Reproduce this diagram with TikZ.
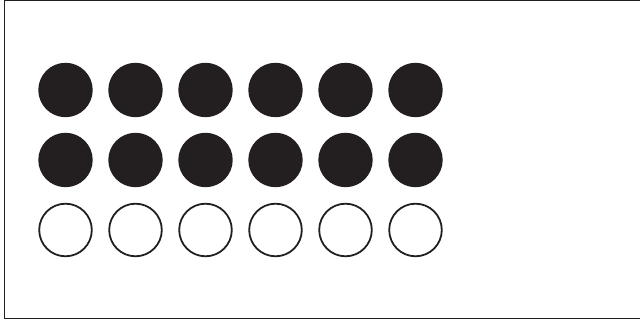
\documentclass[tikz,border=0pt]{standalone}
\usepackage{tikz}
\usetikzlibrary{positioning}
\definecolor{inkblack}{HTML}{231F20}

\begin{document}
\begin{tikzpicture}[
  x=1pt, y=-1pt,
  node distance=15.6pt,
  dot/.style={circle, draw=inkblack, line width=1.8pt, minimum size=52.6pt, inner sep=0pt},
  fulldot/.style={dot, fill=inkblack},
  emptydot/.style={dot, fill=white},
  frame/.style={draw=inkblack, line width=1pt}
]
  \useasboundingbox (0,0) rectangle (640,320);
  \draw[frame] (4,1) rectangle (645,318.5);

  % first column
  \node[fulldot] (a1) at (65.5,90) {};
  \node[fulldot, below=of a1] (b1) {};
  \node[emptydot, below=of b1] (c1) {};

  % remaining columns
  \foreach \i [remember=\i as \j (initially 1)] in {2,...,6} {
    \node[fulldot, right=of a\j] (a\i) {};
    \node[fulldot, right=of b\j] (b\i) {};
    \node[emptydot, right=of c\j] (c\i) {};
  }
\end{tikzpicture}
\end{document}
